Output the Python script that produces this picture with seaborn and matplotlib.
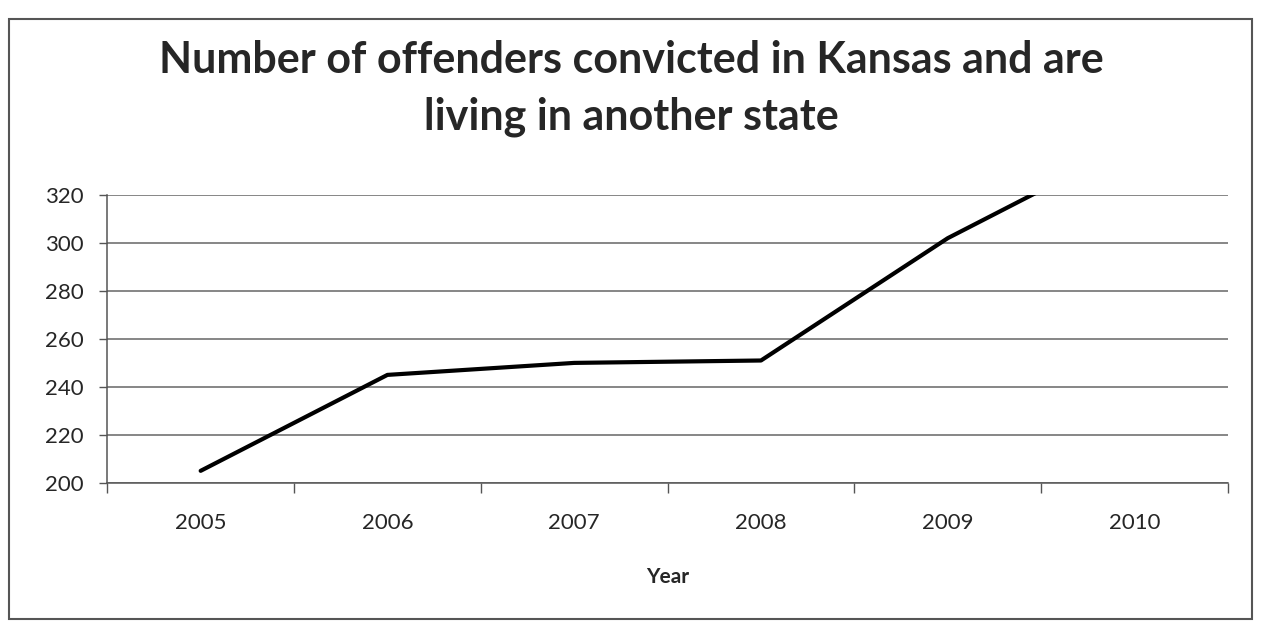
import pandas as pd
import numpy as np
import seaborn as sns
import matplotlib.pyplot as plt
from matplotlib.patches import Rectangle
from matplotlib.ticker import FixedLocator

# data
years = ["2005", "2006", "2007", "2008", "2009", "2010"]
offenders = [205, 245, 250, 251, 302, 342]
y_ticks = [200, 220, 240, 260, 280, 300, 320]

df = pd.DataFrame({"Year": years, "Offenders": offenders})

sns.set_theme(style="white")
plt.rcParams['font.family'] = ['Lato', 'DejaVu Sans']

fig = plt.figure(figsize=(12.62, 6.23), dpi=100)
ax = fig.add_axes([0.085, 0.225, 0.888, 0.462])

sns.lineplot(data=df, x="Year", y="Offenders", color="black", linewidth=3, ax=ax)

ax.set_xlim(-0.5, len(years) - 0.5)
ax.set_ylim(200, 320)
ax.set_yticks(y_ticks)
ax.set_yticklabels([str(v) for v in y_ticks], fontsize=16)
ax.set_xticks(range(len(years)))
ax.set_xticklabels(years, fontsize=16)
ax.tick_params(axis="x", which="major", length=0, pad=22)
ax.xaxis.set_minor_locator(FixedLocator(np.arange(-0.5, len(years), 1)))
ax.tick_params(axis="x", which="minor", length=7, width=1, color="#555555", direction="out", bottom=True)
ax.tick_params(axis="y", length=6, width=1, color="#555555", direction="out", left=True, pad=11)

ax.grid(axis="y", color="#666666", linewidth=1.1)
ax.set_axisbelow(True)
for s in ["top", "right"]:
    ax.spines[s].set_visible(False)
for s in ["left", "bottom"]:
    ax.spines[s].set_color("#555555")
    ax.spines[s].set_linewidth(1.1)

ax.set_xlabel("Year", fontsize=15, fontweight="bold", labelpad=24)
ax.set_ylabel("")

fig.suptitle("Number of offenders convicted in Kansas and are\nliving in another state",
             fontsize=31, fontweight="bold", y=0.935, linespacing=1.5)

# chart frame
fig.patches.append(Rectangle((0.007, 0.007), 0.985, 0.962, transform=fig.transFigure,
                             fill=False, edgecolor="#555555", linewidth=1.5))

fig.savefig("out.png", dpi=100, facecolor="white")
